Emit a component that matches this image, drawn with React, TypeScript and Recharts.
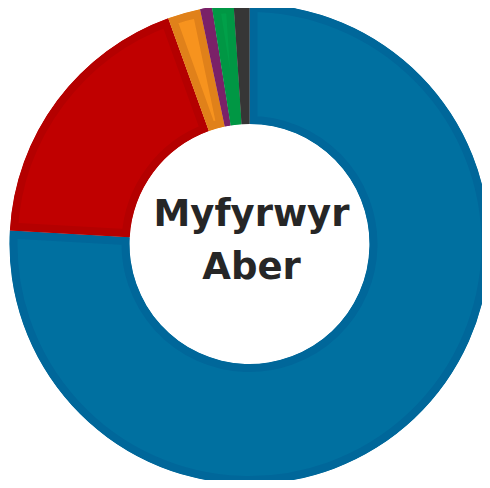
import { PieChart, Pie, Cell, Sector, Label } from "recharts";

const parties = ["Llafur", "Plaid Cymru", "Dem Rhydd", "Gwyrdd", "Ceidwadwyr", "Arall"];
const shares = [75.9, 18.6, 2.2, 0.8, 1.45, 1.05];
const fills = ["#0070a0", "#c00000", "#f7931e", "#81236f", "#00a049", "#3d3d3d"];
const borders = ["#00679a", "#b40000", "#e0811a", "#7a2168", "#009744", "#363636"];

const centreLines = ["Myfyrwyr", "Aber"];

const data = parties.map((name, i) => ({ name, value: shares[i] }));

const CX = 249.5;
const CY = 244;

// draw each slice with an 8px border on the inside only (clip the stroke to the slice)
function BorderedSector(props: any) {
  const { index, cx, cy, innerRadius, outerRadius, startAngle, endAngle, fill } = props;
  const id = `slice-clip-${index}`;
  const geom = { cx, cy, innerRadius, outerRadius, startAngle, endAngle };
  return (
    <g>
      <defs>
        <clipPath id={id}>
          <Sector {...geom} />
        </clipPath>
      </defs>
      <Sector {...geom} fill={fill} stroke={borders[index]} strokeWidth={16} clipPath={`url(#${id})`} />
    </g>
  );
}

function CentreText() {
  const x = CX + 2;
  return (
    <text textAnchor="middle" fontFamily="DejaVu Sans" fontWeight="bold" fontSize={37} fill="#262626">
      <tspan x={x} y={CY - 18}>{centreLines[0]}</tspan>
      <tspan x={x} y={CY + 35}>{centreLines[1]}</tspan>
    </text>
  );
}

export default function App() {
  return (
    <div style={{ margin: -8, width: 490, height: 488, background: "#fff" }}>
      <PieChart width={490} height={488} margin={{ top: 0, right: 0, bottom: 0, left: 0 }}>
        <Pie
          data={data}
          dataKey="value"
          nameKey="name"
          cx={CX}
          cy={CY}
          innerRadius={120}
          outerRadius={240}
          startAngle={90}
          endAngle={-270}
          stroke="none"
          shape={BorderedSector}
          isAnimationActive={false}
        >
          {data.map((d, i) => (
            <Cell key={d.name} fill={fills[i]} />
          ))}
          <Label position="center" content={CentreText} />
        </Pie>
      </PieChart>
    </div>
  );
}
